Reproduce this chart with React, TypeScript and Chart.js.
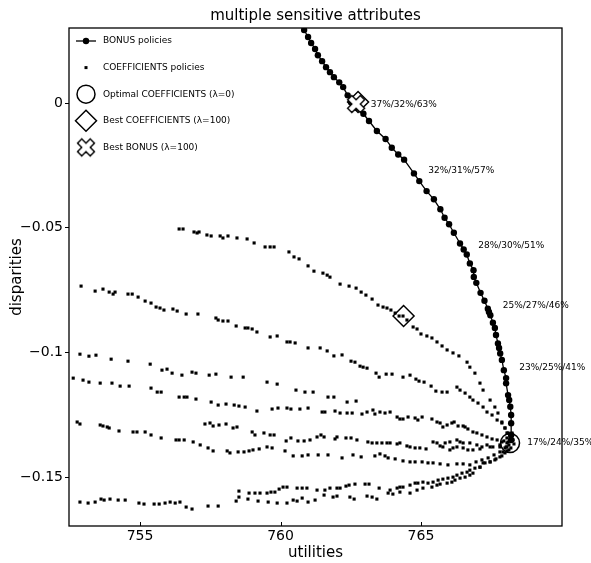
import React, { useEffect, useRef } from "react";
import { Chart, registerables } from "chart.js";

Chart.register(...registerables);

// ---------- axes ----------
const xLimits = [752.47, 770.02];
const yLimits = [-0.1696, 0.0301];
const xTickValues = [755, 760, 765];
const yTickValues = [0, -0.05, -0.1, -0.15];
const yTickLabels = ["0", "\u22120.05", "\u22120.1", "\u22120.15"];

const chartTitle = "multiple sensitive attributes";
const xTitle = "utilities";
const yTitle = "disparities";

const legendLabels = [
  "BONUS policies",
  "COEFFICIENTS policies",
  "Optimal COEFFICIENTS (\u03bb=0)",
  "Best COEFFICIENTS (\u03bb=100)",
  "Best BONUS (\u03bb=100)",
];

// ---------- BONUS policies (line) ----------
const bonusPolicies: [number, number][] = [
  [760.73, 0.0317], [760.84, 0.0293], [760.98, 0.0265], [761.09, 0.0241], [761.23, 0.0217],
  [761.33, 0.0192], [761.48, 0.0168], [761.62, 0.0144], [761.76, 0.0124], [761.9, 0.0104],
  [762.09, 0.0083], [762.23, 0.0064], [762.39, 0.0031], [762.51, 0.0003], [762.69, -0.0019],
  [762.95, -0.0043], [763.15, -0.0072], [763.43, -0.0112], [763.74, -0.0144], [763.96, -0.0179],
  [764.19, -0.0206], [764.4, -0.0227], [764.75, -0.0282], [764.94, -0.0313], [765.2, -0.0353],
  [765.46, -0.0386], [765.69, -0.0426], [765.84, -0.046], [766.0, -0.0486], [766.17, -0.052],
  [766.39, -0.0563], [766.52, -0.0587], [766.63, -0.0607], [766.74, -0.0643], [766.87, -0.067],
  [766.88, -0.0697], [766.97, -0.0721], [767.12, -0.0761], [767.26, -0.0793], [767.38, -0.0825],
  [767.42, -0.0838], [767.47, -0.0851], [767.56, -0.0881], [767.63, -0.0902], [767.67, -0.093],
  [767.74, -0.0964], [767.78, -0.0982], [767.82, -0.1004], [767.88, -0.103], [767.95, -0.1071],
  [768.03, -0.1103], [768.03, -0.1124], [768.1, -0.1171], [768.14, -0.1191], [768.18, -0.1218],
  [768.21, -0.1251], [768.21, -0.1284], [768.21, -0.1331], [768.21, -0.1351],
];

// ---------- COEFFICIENTS policies (scatter), one array per sweep ----------
const coefSweepA: [number, number][] = [
  [756.39, -0.0505], [756.53, -0.0505], [756.92, -0.0517], [757.03, -0.0521], [757.1, -0.0517],
  [757.38, -0.0529], [757.53, -0.0533], [757.85, -0.0533], [757.95, -0.0541], [758.13, -0.0533],
  [758.45, -0.0541], [758.81, -0.0545], [759.06, -0.0561], [759.45, -0.0577], [759.63, -0.0577],
  [759.77, -0.0577], [760.3, -0.0597], [760.48, -0.0617], [760.66, -0.0625], [760.98, -0.0653],
  [761.19, -0.0674], [761.51, -0.0682], [761.66, -0.069], [761.76, -0.0698], [762.12, -0.0726],
  [762.44, -0.0734], [762.69, -0.0742], [762.87, -0.0758], [763.04, -0.077], [763.26, -0.0786],
  [763.47, -0.081], [763.65, -0.0818], [763.79, -0.0822], [763.93, -0.083], [764.08, -0.0842],
  [764.22, -0.0854], [764.36, -0.0854], [764.5, -0.087], [764.72, -0.0898], [764.86, -0.0906],
  [765.0, -0.0926], [765.21, -0.0934], [765.39, -0.0942], [765.57, -0.0958], [765.75, -0.0974],
  [765.93, -0.099], [766.14, -0.1002], [766.35, -0.1014], [766.64, -0.1039], [766.74, -0.1059],
  [766.92, -0.1083], [767.1, -0.1123], [767.21, -0.1151], [767.46, -0.1191], [767.63, -0.1219],
  [767.74, -0.1243], [767.88, -0.1279], [767.99, -0.1303], [768.06, -0.1323],
];
const coefSweepB: [number, number][] = [
  [752.9, -0.0734], [753.4, -0.0754], [753.68, -0.0746], [753.9, -0.0758], [754.04, -0.0766],
  [754.11, -0.0758], [754.57, -0.0766], [754.72, -0.0766], [754.93, -0.0778], [755.18, -0.0794],
  [755.39, -0.0802], [755.57, -0.0818], [755.71, -0.0822], [755.85, -0.083], [756.17, -0.0826],
  [756.32, -0.0834], [756.64, -0.0846], [757.06, -0.0846], [757.7, -0.0862], [757.78, -0.087],
  [757.95, -0.0874], [758.13, -0.0874], [758.42, -0.0894], [758.74, -0.0902], [758.84, -0.0902],
  [758.99, -0.0906], [759.16, -0.0918], [759.63, -0.0938], [759.88, -0.0934], [760.23, -0.0958],
  [760.34, -0.0958], [760.52, -0.0962], [760.98, -0.0982], [761.41, -0.0982], [761.66, -0.0994],
  [761.9, -0.1014], [762.19, -0.101], [762.51, -0.1035], [762.65, -0.1039], [762.83, -0.1055],
  [762.94, -0.1059], [763.08, -0.1063], [763.4, -0.1083], [763.51, -0.1099], [763.76, -0.1087],
  [763.97, -0.1087], [764.36, -0.1099], [764.61, -0.1091], [764.82, -0.1107], [764.93, -0.1115],
  [765.11, -0.1119], [765.36, -0.1135], [765.53, -0.1155], [765.75, -0.1159], [765.93, -0.1159],
  [766.28, -0.1139], [766.39, -0.1151], [766.57, -0.1163], [766.74, -0.1179], [766.85, -0.1191],
  [767.03, -0.1203], [767.21, -0.1219], [767.35, -0.1239], [767.53, -0.1251], [767.71, -0.1271],
  [767.88, -0.1283], [767.99, -0.1303], [768.1, -0.1323],
];
const coefSweepC: [number, number][] = [
  [752.86, -0.1007], [753.18, -0.1015], [753.43, -0.1011], [753.97, -0.1027], [754.57, -0.1035],
  [755.36, -0.1047], [755.78, -0.1071], [755.96, -0.1067], [756.14, -0.1083], [756.49, -0.1091],
  [756.85, -0.1079], [756.99, -0.1083], [757.46, -0.1091], [757.7, -0.1087], [758.24, -0.1099],
  [758.67, -0.1099], [759.52, -0.1119], [759.88, -0.1127], [760.55, -0.1151], [760.87, -0.1159],
  [761.16, -0.1159], [761.69, -0.1179], [761.9, -0.1179], [762.37, -0.1199], [762.69, -0.1195],
];
const coefSweepD: [number, number][] = [
  [752.62, -0.1103], [752.97, -0.1111], [753.18, -0.1119], [753.58, -0.1123], [754.0, -0.1123],
  [754.29, -0.1135], [754.61, -0.1135], [755.39, -0.1143], [755.61, -0.1159], [755.75, -0.1159],
  [756.39, -0.1179], [756.57, -0.1179], [756.67, -0.1179], [756.99, -0.1187], [757.53, -0.1199],
  [757.78, -0.1211], [758.06, -0.1207], [758.35, -0.1211], [758.52, -0.1215], [758.74, -0.1219],
  [759.16, -0.1235], [759.7, -0.1227], [759.91, -0.1223], [760.23, -0.1223], [760.37, -0.1227],
  [760.69, -0.1227], [760.98, -0.1223], [761.48, -0.1239], [761.58, -0.1239], [761.94, -0.1235],
  [762.12, -0.1243], [762.37, -0.1243], [762.55, -0.1243], [762.9, -0.1247], [763.08, -0.1239],
  [763.29, -0.1231], [763.36, -0.1247], [763.54, -0.1239], [763.72, -0.1243], [763.9, -0.1239],
  [764.15, -0.1259], [764.25, -0.1267], [764.36, -0.1267], [764.54, -0.1259], [764.79, -0.1263],
  [764.89, -0.1271], [765.04, -0.1259], [765.39, -0.1267], [765.57, -0.1279], [765.68, -0.1283],
  [765.78, -0.1299], [765.93, -0.1291], [766.1, -0.1283], [766.18, -0.1279], [766.32, -0.1295],
  [766.5, -0.1295], [766.57, -0.1299], [766.67, -0.1307], [766.85, -0.1319], [766.99, -0.1323],
  [767.17, -0.1331], [767.35, -0.1339], [767.53, -0.1347], [767.71, -0.1351], [767.88, -0.1359],
  [768.06, -0.1363],
];
const coefSweepE: [number, number][] = [
  [752.76, -0.1279], [752.86, -0.1287], [753.58, -0.1291], [753.68, -0.1295], [753.83, -0.1299],
  [753.9, -0.1303], [754.25, -0.1315], [754.75, -0.1319], [754.89, -0.1319], [755.18, -0.1319],
  [755.39, -0.1331], [755.75, -0.1343], [756.28, -0.1351], [756.39, -0.1351], [756.57, -0.1351],
  [756.89, -0.1359], [757.14, -0.1371], [757.42, -0.1383], [757.6, -0.1395], [758.1, -0.1395],
  [758.2, -0.1403], [758.49, -0.1399], [758.7, -0.1399], [758.88, -0.1395], [759.02, -0.1391],
  [759.24, -0.1387], [759.52, -0.1379], [759.7, -0.1383], [760.16, -0.1395], [760.45, -0.1415],
  [760.77, -0.1415], [760.98, -0.1411], [761.34, -0.1411], [761.69, -0.1411], [762.19, -0.1423],
  [762.58, -0.1411], [762.87, -0.1419], [763.36, -0.1415], [763.54, -0.1407], [763.72, -0.1415],
  [763.83, -0.1423], [764.08, -0.1427], [764.36, -0.1435], [764.61, -0.1439], [764.79, -0.1439],
  [765.04, -0.1439], [765.25, -0.1443], [765.43, -0.1443], [765.68, -0.1447], [765.96, -0.1451],
  [766.28, -0.1447], [766.5, -0.1447], [766.74, -0.1451], [766.96, -0.1439], [767.17, -0.1431],
  [767.39, -0.1423], [767.6, -0.1411], [767.81, -0.1399], [767.99, -0.1383],
];
const coefSweepF: [number, number][] = [
  [757.31, -0.1287], [757.49, -0.1283], [757.6, -0.1295], [757.81, -0.1291], [758.06, -0.1287],
  [758.31, -0.1303], [758.45, -0.1299], [758.99, -0.1319], [759.09, -0.1331], [759.41, -0.1323],
  [759.63, -0.1331], [759.77, -0.1331], [760.2, -0.1355], [760.37, -0.1343], [760.62, -0.1355],
  [760.84, -0.1355], [761.05, -0.1351], [761.3, -0.1339], [761.44, -0.1331], [761.55, -0.1339],
  [761.94, -0.1347], [762.01, -0.1339], [762.33, -0.1343], [762.51, -0.1343], [762.72, -0.1351],
  [763.11, -0.1359], [763.26, -0.1363], [763.43, -0.1363], [763.61, -0.1363], [763.79, -0.1363],
  [763.9, -0.1363], [764.15, -0.1367], [764.25, -0.1363], [764.5, -0.1375], [764.61, -0.1379],
  [764.79, -0.1383], [764.96, -0.1383], [765.18, -0.1387], [765.78, -0.1379], [766.03, -0.1391],
  [766.14, -0.1383], [766.28, -0.1379], [766.5, -0.1383], [766.67, -0.1391], [766.85, -0.1391],
  [767.1, -0.1387], [767.46, -0.1379], [767.81, -0.1371], [768.1, -0.1359],
];
const coefSweepG: [number, number][] = [
  [765.43, -0.1359], [765.57, -0.1363], [765.68, -0.1375], [765.86, -0.1363], [766.03, -0.1359],
  [766.28, -0.1351], [766.39, -0.1359], [766.5, -0.1363], [766.74, -0.1363], [766.99, -0.1371],
  [767.17, -0.1379], [767.35, -0.1371], [767.56, -0.1379], [767.81, -0.1379], [768.06, -0.1379],
];
const coefSweepH: [number, number][] = [
  [752.86, -0.16], [753.15, -0.1604], [753.4, -0.16], [753.61, -0.1588], [753.72, -0.1592],
  [753.93, -0.1588], [754.22, -0.1592], [754.47, -0.1592], [754.96, -0.1604], [755.14, -0.1608],
  [755.5, -0.1608], [755.68, -0.1608], [755.89, -0.1604], [756.07, -0.16], [756.25, -0.1604],
  [756.42, -0.16], [756.64, -0.162], [756.85, -0.1628], [757.42, -0.1616], [757.78, -0.1616],
  [758.42, -0.1596], [758.52, -0.158], [758.84, -0.1588], [759.2, -0.1596], [759.56, -0.16],
  [759.88, -0.1604], [760.23, -0.1604], [760.45, -0.1592], [760.59, -0.1596], [760.77, -0.1584],
  [760.98, -0.16], [761.23, -0.1592], [761.55, -0.1572], [761.87, -0.158], [762.01, -0.1576],
  [762.47, -0.158], [762.62, -0.1588], [763.08, -0.1576], [763.26, -0.158], [763.43, -0.1588],
  [763.83, -0.1564], [764.0, -0.1568], [764.25, -0.156], [764.61, -0.1564], [764.86, -0.1552],
  [765.07, -0.1544], [765.39, -0.154], [765.57, -0.1532], [765.68, -0.1528], [765.93, -0.1524],
  [766.1, -0.152], [766.21, -0.1512], [766.39, -0.1504], [766.57, -0.15], [766.74, -0.1492],
  [766.85, -0.1484], [767.1, -0.146], [767.21, -0.1443], [767.46, -0.1439], [767.63, -0.1431],
  [767.81, -0.1419], [767.99, -0.1403],
];
const coefSweepI: [number, number][] = [
  [758.52, -0.1556], [758.88, -0.1564], [759.09, -0.1564], [759.27, -0.1564], [759.52, -0.1564],
  [759.66, -0.156], [759.8, -0.156], [759.95, -0.1548], [760.09, -0.154], [760.23, -0.154],
  [760.59, -0.1544], [760.77, -0.1544], [760.94, -0.1544], [761.3, -0.1552], [761.58, -0.1552],
  [761.76, -0.1544], [762.01, -0.1544], [762.12, -0.1544], [762.33, -0.1536], [762.44, -0.1532],
  [762.65, -0.1528], [763.01, -0.1528], [763.15, -0.1528], [763.51, -0.1544], [763.9, -0.1552],
  [764.15, -0.1544], [764.25, -0.154], [764.36, -0.154], [764.61, -0.1532], [764.79, -0.1524],
  [764.89, -0.1524], [765.07, -0.152], [765.25, -0.1524], [765.43, -0.152], [765.61, -0.1512],
  [765.78, -0.1508], [765.96, -0.1504], [766.14, -0.15], [766.28, -0.1492], [766.46, -0.1484],
  [766.64, -0.148], [766.74, -0.1472], [766.92, -0.1464], [767.1, -0.146], [767.28, -0.1443],
  [767.46, -0.1439], [767.67, -0.1427], [767.88, -0.1415], [768.06, -0.1395],
];
const coefHub: [number, number][] = [
  [768.17, -0.1339], [768.28, -0.1351], [768.13, -0.1371], [768.03, -0.1379], [768.2, -0.1383],
  [768.31, -0.1367], [767.95, -0.1355], [768.06, -0.1343], [768.24, -0.1323], [768.13, -0.1391],
  [767.92, -0.1399],
];

// ---------- highlighted policies ----------
const optimalCoefficients: [number, number][] = [[768.17, -0.1363]];
const bestCoefficients: [number, number][] = [[764.38, -0.0854], [762.76, 0.0004]];
const bestBonus: [number, number][] = [[762.69, -0.0004]];

// ---------- text annotations on the BONUS curve ----------
const annotationTexts = ["37%/32%/63%", "32%/31%/57%", "28%/30%/51%", "25%/27%/46%", "23%/25%/41%", "17%/24%/35%"];
const annotationX = [763.21, 765.26, 767.04, 767.91, 768.5, 768.78];
const annotationY = [-0.0005, -0.027, -0.0572, -0.0813, -0.1061, -0.1361];

const FONT = '"DejaVu Sans", sans-serif';

const toXY = (arr: [number, number][]) => arr.map(([x, y]) => ({ x, y }));

function makeXMarker(): HTMLCanvasElement {
  const c = document.createElement("canvas");
  c.width = 22;
  c.height = 22;
  const g = c.getContext("2d")!;
  const L = 9, a = 3;
  const plus = [
    [-a, -L], [a, -L], [a, -a], [L, -a], [L, a], [a, a],
    [a, L], [-a, L], [-a, a], [-L, a], [-L, -a], [-a, -a],
  ];
  const r = Math.SQRT1_2;
  g.beginPath();
  plus.forEach(([px, py], i) => {
    const x = 11 + (px - py) * r;
    const y = 11 + (px + py) * r;
    if (i === 0) g.moveTo(x, y);
    else g.lineTo(x, y);
  });
  g.closePath();
  g.fillStyle = "#fff";
  g.fill();
  g.lineWidth = 1.4;
  g.strokeStyle = "#000";
  g.lineJoin = "miter";
  g.stroke();
  return c;
}

export default function App() {
  const ref = useRef<HTMLCanvasElement | null>(null);

  useEffect(() => {
    if (!ref.current) return;
    Chart.defaults.font.family = FONT;
    Chart.defaults.color = "#000";
    const xMarker = makeXMarker();

    const coefAll = [
      ...coefSweepA, ...coefSweepB, ...coefSweepC, ...coefSweepD, ...coefSweepE,
      ...coefSweepF, ...coefSweepG, ...coefSweepH, ...coefSweepI, ...coefHub,
    ];

    const decor = {
      id: "decor",
      afterDraw(chart: any) {
        const { ctx, chartArea: area, scales } = chart;
        const xs = scales.x, ys = scales.y;
        ctx.save();
        // frame
        ctx.strokeStyle = "#000";
        ctx.lineWidth = 1.3;
        ctx.strokeRect(area.left, area.top, area.right - area.left, area.bottom - area.top);
        // inward x ticks
        ctx.lineWidth = 1;
        xTickValues.forEach((v) => {
          const px = Math.round(xs.getPixelForValue(v)) + 0.5;
          ctx.beginPath();
          ctx.moveTo(px, area.bottom);
          ctx.lineTo(px, area.bottom - 4);
          ctx.stroke();
        });
        // title
        ctx.fillStyle = "#000";
        ctx.font = `15px ${FONT}`;
        ctx.textAlign = "center";
        ctx.textBaseline = "middle";
        ctx.fillText(chartTitle, (area.left + area.right) / 2, 16);
        // annotations
        ctx.font = `9px ${FONT}`;
        ctx.textAlign = "left";
        annotationTexts.forEach((t, i) => {
          ctx.fillText(t, xs.getPixelForValue(annotationX[i]), ys.getPixelForValue(annotationY[i]));
        });
        // legend
        const mx = area.left + 17;
        const tx = area.left + 34;
        const row0 = area.top + 13;
        const step = 26.6;
        ctx.font = `9px ${FONT}`;
        legendLabels.forEach((lbl, i) => {
          const cy = row0 + i * step;
          ctx.fillStyle = "#000";
          ctx.fillText(lbl, tx, cy);
          ctx.strokeStyle = "#000";
          if (i === 0) {
            ctx.lineWidth = 1.3;
            ctx.beginPath();
            ctx.moveTo(mx - 10, cy);
            ctx.lineTo(mx + 10, cy);
            ctx.stroke();
            ctx.beginPath();
            ctx.arc(mx, cy, 3.2, 0, Math.PI * 2);
            ctx.fill();
          } else if (i === 1) {
            ctx.fillRect(mx - 1.5, cy - 1.5, 3, 3);
          } else if (i === 2) {
            ctx.lineWidth = 1.5;
            ctx.beginPath();
            ctx.arc(mx, cy, 9, 0, Math.PI * 2);
            ctx.stroke();
          } else if (i === 3) {
            ctx.lineWidth = 1.5;
            ctx.beginPath();
            ctx.moveTo(mx - 10.5, cy);
            ctx.lineTo(mx, cy - 10.5);
            ctx.lineTo(mx + 10.5, cy);
            ctx.lineTo(mx, cy + 10.5);
            ctx.closePath();
            ctx.stroke();
          } else {
            ctx.drawImage(xMarker, mx - xMarker.width / 2, cy - xMarker.height / 2);
          }
        });
        ctx.restore();
      },
    };

    const chart = new Chart(ref.current, {
      type: "scatter",
      data: {
        datasets: [
          {
            label: legendLabels[4],
            data: toXY(bestBonus),
            pointStyle: xMarker as any,
            pointRadius: 9,
          },
          {
            label: legendLabels[3],
            data: toXY(bestCoefficients),
            pointStyle: "rectRot",
            pointRadius: 10.5,
            backgroundColor: "rgba(0,0,0,0)",
            borderColor: "#000",
            borderWidth: 1.5,
          },
          {
            label: legendLabels[2],
            data: toXY(optimalCoefficients),
            pointStyle: "circle",
            pointRadius: 9.5,
            backgroundColor: "rgba(0,0,0,0)",
            borderColor: "#000",
            borderWidth: 1.5,
          },
          {
            label: legendLabels[0],
            data: toXY(bonusPolicies),
            showLine: true,
            borderColor: "#000",
            borderWidth: 1.3,
            pointRadius: 3.2,
            pointBackgroundColor: "#000",
            pointBorderWidth: 0,
            pointStyle: "circle",
          },
          {
            label: legendLabels[1],
            data: toXY(coefAll),
            pointStyle: "rect",
            pointRadius: 2.2,
            backgroundColor: "#000",
            borderWidth: 0,
          },
        ],
      },
      options: {
        responsive: false,
        animation: false,
        devicePixelRatio: 1,
        events: [],
        layout: { padding: { top: 28, right: 29, bottom: 0, left: 0 } },
        plugins: {
          legend: { display: false },
          title: { display: false },
          tooltip: { enabled: false },
        },
        scales: {
          x: {
            type: "linear",
            min: xLimits[0],
            max: xLimits[1],
            afterBuildTicks: (s: any) => {
              s.ticks = xTickValues.map((v) => ({ value: v }));
            },
            afterFit: (s: any) => {
              s.height = 37;
            },
            grid: { display: true, drawOnChartArea: false, drawTicks: false },
            border: { display: false },
            ticks: {
              color: "#000",
              font: { size: 14, family: FONT },
              padding: 2,
              maxRotation: 0,
              callback: (v: any) => String(v),
            },
            title: {
              display: true,
              text: xTitle,
              color: "#000",
              font: { size: 15, family: FONT },
              padding: { top: 0, bottom: 1 },
            },
          },
          y: {
            type: "linear",
            min: yLimits[0],
            max: yLimits[1],
            afterBuildTicks: (s: any) => {
              s.ticks = yTickValues.map((v) => ({ value: v }));
            },
            afterFit: (s: any) => {
              s.width = 69;
            },
            grid: { display: true, drawOnChartArea: false, drawTicks: true, tickLength: 4, color: "#000", lineWidth: 1 },
            border: { display: false },
            ticks: {
              color: "#000",
              font: { size: 14, family: FONT },
              padding: 2,
              callback: (v: any) => {
                const i = yTickValues.findIndex((t) => Math.abs(t - Number(v)) < 1e-9);
                return i >= 0 ? yTickLabels[i] : "";
              },
            },
            title: {
              display: true,
              text: yTitle,
              color: "#000",
              font: { size: 15, family: FONT },
              padding: { top: 8, bottom: 0 },
            },
          },
        },
      } as any,
      plugins: [decor],
    });

    return () => chart.destroy();
  }, []);

  return (
    <canvas
      ref={ref}
      width={591}
      height={563}
      style={{ position: "fixed", left: 0, top: 0, width: 591, height: 563, display: "block" }}
    />
  );
}
